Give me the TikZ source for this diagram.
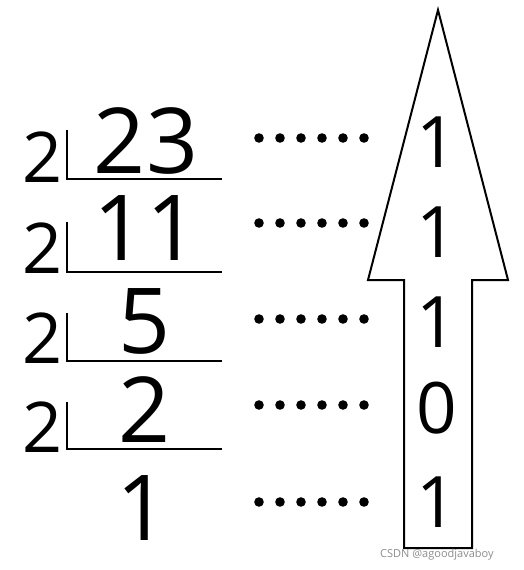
\documentclass[tikz,border=0pt]{standalone}
\usepackage{fontspec}
\setmainfont{Open Sans}
\begin{document}
\begin{tikzpicture}[x=1pt,y=-1pt,
  divisor/.style={inner sep=0pt,anchor=base,font=\fontsize{70}{70}\selectfont},
  quot/.style={inner sep=0pt,anchor=base,font=\fontsize{91}{91}\selectfont},
  bit/.style={inner sep=0pt,anchor=base,font=\fontsize{71}{71}\selectfont},
  rule/.style={line width=2pt},
  dotrow/.style={fill=black}]
\useasboundingbox (0,0) rectangle (524,570);
% divisors
\node[divisor] (d1) at (43,182) {2};
\node[divisor] (d2) at (43,273) {2};
\node[divisor] (d3) at (43,363) {2};
\node[divisor] (d4) at (43,452) {2};
% quotients
\node[quot] (q1) at (146,173) {23};
\node[quot] (q2) at (146,260) {11};
\node[quot] (q3) at (145,353) {5};
\node[quot] (q4) at (145,442) {2};
\node[quot] (q5) at (143,540) {1};
% division brackets
\draw[rule] (67,130) -- (67,179) -- (222,179);
\draw[rule] (67,222) -- (67,272) -- (222,272);
\draw[rule] (67,313) -- (67,361) -- (222,361);
\draw[rule] (67,402) -- (67,449) -- (222,449);
% dot rows
\foreach \y in {138,223,319,405,502}{
  \foreach \i in {0,...,5}{
    \fill[dotrow] (259+21*\i,\y) circle (4.8);
  }
}
% arrow
\draw[line width=2pt,line join=miter] (438,10) -- (508,280) -- (472,280) -- (472,548)
  -- (404,548) -- (404,280) -- (368,280) -- cycle;
% bits
\node[bit] (b1) at (437,167) {1};
\node[bit] (b2) at (437,257) {1};
\node[bit] (b3) at (437,347) {1};
\node[bit] (b4) at (437,433) {0};
\node[bit] (b5) at (437,527) {1};
% watermark
\node[inner sep=0pt,anchor=base west,text=black!45,font=\fontsize{11}{11}\selectfont] (wm) at (380,557) {CSDN @agoodjavaboy};
\end{tikzpicture}
\end{document}
